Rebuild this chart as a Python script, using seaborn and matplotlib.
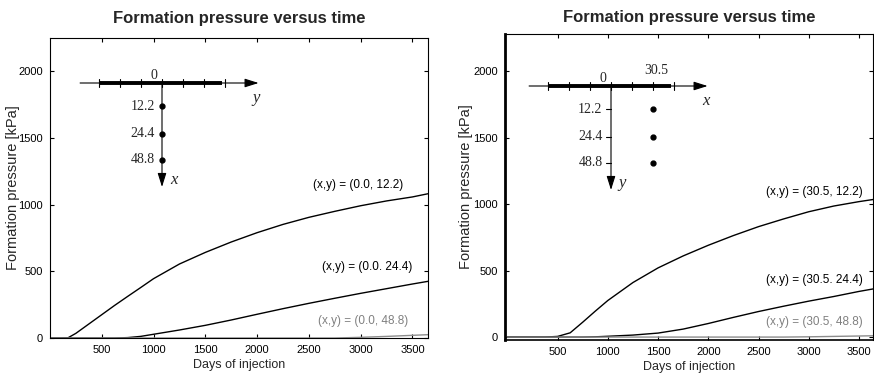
"""
地层压力随注入时间变化 (两个观测剖面)
左: 观测点位于 y 轴上 (x, y) = (0.0, ·); 右: 偏离 30.5 m 的 (30.5, ·)
"""

import numpy as np
import pandas as pd
import matplotlib
matplotlib.use("Agg")  # 无界面环境下存图
import matplotlib.pyplot as plt
import seaborn as sns

sns.set_theme(style="ticks")
# set_theme 会重置字体, 所以放在其后
plt.rcParams["font.family"] = ["Liberation Sans", "DejaVu Sans"]

# ============================================================
# 数据
# ============================================================
days = [0, 100, 175, 250, 375, 500, 625, 750, 875, 1000, 1250, 1500,
        1750, 2000, 2250, 2500, 2750, 3000, 3250, 3500, 3650]

# 左图: (x, y) = (0.0, 12.2 / 24.4 / 48.8)  [kPa]
p_left_122 = [0, 0, 2, 35, 105, 175, 245, 312, 378, 445, 555, 642,
              720, 790, 852, 905, 950, 992, 1028, 1058, 1082]
p_left_244 = [0, 0, 0, 0, 0, 0, 0, 3, 12, 28, 60, 95,
              135, 178, 220, 260, 298, 335, 370, 405, 425]
p_left_488 = [0, 0, 0, 0, 0, 0, 0, 0, 0, 0, 0, 0,
              0, 0, 0, 0, 0, 5, 12, 20, 25]

# 右图: (x, y) = (30.5, 12.2 / 24.4 / 48.8)  [kPa]
p_right_122 = [0, 0, 0, 0, 0, 5, 32, 112, 195, 275, 410, 520,
               610, 690, 763, 830, 888, 942, 985, 1018, 1035]
p_right_244 = [0, 0, 0, 0, 0, 0, 0, 0, 2, 6, 15, 30,
               60, 102, 148, 192, 232, 270, 305, 343, 363]
p_right_488 = [0, 0, 0, 0, 0, 0, 0, 0, 0, 0, 0, 0,
               0, 0, 0, 0, 0, 2, 5, 8, 10]

obs_dist = [12.2, 24.4, 48.8]    # 观测点到井的距离 [m]
offset_right = 30.5              # 右图观测剖面的横向偏移 [m]
grid_step = 15.25                # 示意图刻度间距 [m]

x_ticks = [500, 1000, 1500, 2000, 2500, 3000, 3500]
y_ticks = [0, 500, 1000, 1500, 2000]

W, H = 874, 378  # 输出像素


def to_long(curves):
    frames = [pd.DataFrame({"days": days, "pressure": p, "well": name})
              for name, p in curves.items()]
    return pd.concat(frames, ignore_index=True)


# ============================================================
# 1. 主图
# ============================================================
def draw_panel(fig, box_px, xlim, ylim, curves, label_pos, ylabel_px,
               title_pad=11, thick_left=False):
    l, t, r, b = box_px
    ax = fig.add_axes([l / W, 1 - b / H, (r - l) / W, (b - t) / H])
    df = to_long(curves)
    names = list(curves)
    palette = {names[0]: "black", names[1]: "black", names[2]: "0.55"}
    sns.lineplot(data=df, x="days", y="pressure", hue="well", palette=palette,
                 linewidth=1.0, legend=False, ax=ax)
    ax.set_xlim(*xlim)
    ax.set_ylim(*ylim)
    ax.set_xticks(x_ticks)
    ax.set_yticks(y_ticks)
    ax.tick_params(direction="in", top=True, right=True, length=3,
                   width=0.8, labelsize=8, pad=5, colors="black")
    for s in ax.spines.values():
        s.set_linewidth(0.8)
        s.set_color("black")
    if thick_left:
        ax.spines["left"].set_linewidth(2.0)
        ax.spines["bottom"].set_linewidth(1.2)
    ax.set_title("Formation pressure versus time", fontsize=12,
                 fontweight="bold", pad=title_pad)
    ax.set_xlabel("Days of injection", fontsize=9)
    ax.set_ylabel("Formation pressure [kPa]", fontsize=10.5, va="center")
    ax.xaxis.set_label_coords(0.5, -0.07)
    ax.yaxis.set_label_coords((ylabel_px - l) / (r - l), 0.5)
    for (name, (fx, fy)), col in zip(zip(names, label_pos), ["black", "black", "0.5"]):
        ax.text(fx, fy, f"(x,y) = {name}", transform=ax.transAxes,
                ha="center", va="center", fontsize=8.5, color=col)
    return ax


# ============================================================
# 2. 井位示意图 (插图)
# ============================================================
TICK_PX = 21   # 示意图横向一格
ROW_PX = 26    # 示意图纵向一格
obs_rows = [0.9, 1.95, 2.95]


def draw_schematic(fig, origin_px, horiz_name, vert_name, obs_col):
    ox, oy = origin_px
    x0, x1, y0, y1 = -4.6, 5.4, -1.3, 4.4
    ax = fig.add_axes([(ox + x0 * TICK_PX) / W, 1 - (oy + y1 * ROW_PX) / H,
                       (x1 - x0) * TICK_PX / W, (y1 - y0) * ROW_PX / H])
    ax.set_xlim(x0, x1)
    ax.set_ylim(y1, y0)
    ax.axis("off")
    serif = "Liberation Serif"
    arrow = dict(arrowstyle="-|>,head_length=0.7,head_width=0.22",
                 lw=0.8, color="black", shrinkA=0, shrinkB=0)
    # 横轴与水平井段
    ax.annotate("", xy=(4.6, 0), xytext=(-3.9, 0), arrowprops=arrow)
    ax.plot([-2.95, 2.85], [0, 0], color="black", lw=2.8, solid_capstyle="butt")
    for c in range(-3, 4):
        ax.plot([c, c], [-0.17, 0.17], color="black", lw=0.8)
    # 纵轴
    ax.annotate("", xy=(0, 4.0), xytext=(0, 0), arrowprops=arrow)
    for d, r in zip(obs_dist, obs_rows):
        if obs_col == 0:
            ax.plot(0, r, "o", color="black", ms=3.5)
            ax.text(-0.35, r, f"{d}", ha="right", va="center",
                    fontsize=10, family=serif)
        else:
            ax.plot([-0.25, 0], [r, r], color="black", lw=0.8)
            ax.plot(obs_col, r, "o", color="black", ms=3.5)
            ax.text(-0.4, r, f"{d}", ha="right", va="center",
                    fontsize=10, family=serif)
    ax.text(-0.38, -0.3, "0", ha="center", va="center", fontsize=10, family=serif)
    if obs_col != 0:
        ax.text(obs_col + 0.14, -0.6, f"{offset_right}", ha="center",
                va="center", fontsize=10, family=serif)
    ax.text(4.5, 0.58, horiz_name, ha="center", va="center", fontsize=12,
            family=serif, style="italic")
    ax.text(0.55, 3.72, vert_name, ha="center", va="center", fontsize=12,
            family=serif, style="italic")
    return ax


def main():
    fig = plt.figure(figsize=(W / 100, H / 100), dpi=100)

    left_curves = {"(0.0, 12.2)": p_left_122,
                   "(0.0. 24.4)": p_left_244,
                   "(0.0, 48.8)": p_left_488}
    right_curves = {"(30.5, 12.2)": p_right_122,
                    "(30.5. 24.4)": p_right_244,
                    "(30.5, 48.8)": p_right_488}

    draw_panel(fig, (50, 38, 428, 338), (0, 3650), (0, 2250), left_curves,
               [(0.815, 0.51), (0.839, 0.237), (0.828, 0.057)], ylabel_px=13)
    draw_panel(fig, (505, 34, 873, 340), (-24, 3640), (-22, 2278), right_curves,
               [(0.84, 0.484), (0.84, 0.196), (0.84, 0.059)], ylabel_px=466,
               title_pad=8.5, thick_left=True)

    draw_schematic(fig, (162, 83), "y", "x", 0)
    draw_schematic(fig, (611, 86), "x", "y", offset_right / grid_step)

    fig.savefig("out.png", dpi=100)
    plt.close(fig)


if __name__ == "__main__":
    main()
